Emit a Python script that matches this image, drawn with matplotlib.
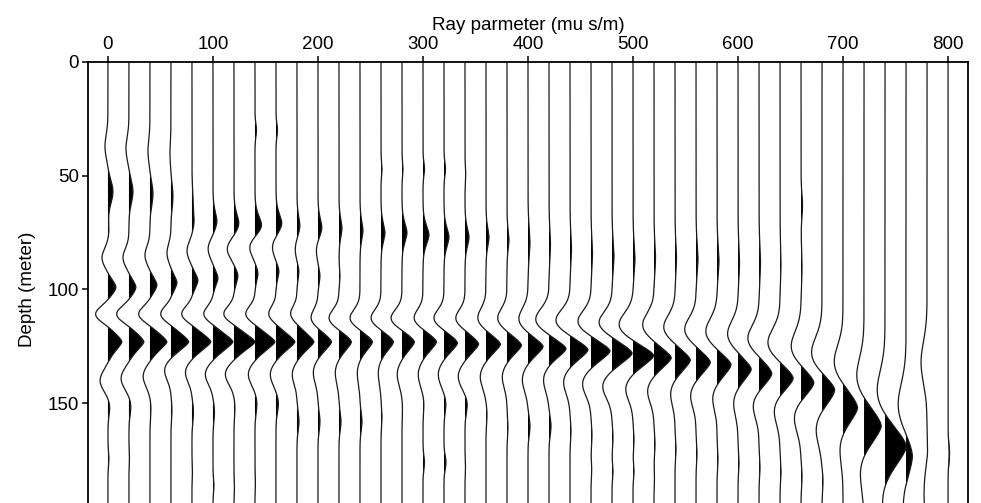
import numpy as np
import matplotlib
matplotlib.use("Agg")
import matplotlib.pyplot as plt

plt.rcParams['font.family'] = ['Liberation Sans', 'DejaVu Sans']

# Ray parameter of every trace (mu s/m)
ray_param = [0, 20, 40, 60, 80, 100, 120, 140, 160, 180,
             200, 220, 240, 260, 280, 300, 320, 340, 360, 380,
             400, 420, 440, 460, 480, 500, 520, 540, 560, 580,
             600, 620, 640, 660, 680, 700, 720, 740, 760, 780,
             800]

# Main reflection: depth (m), amplitude, width (m) for each trace
main_depth = [123, 123, 123, 123, 123, 123, 123, 123, 123, 123,
              123, 123, 123, 123, 123, 123, 123.5, 124, 124, 124.5,
              125, 126, 126.5, 127, 128, 129, 130, 131, 132, 133,
              135, 137, 139, 141, 144, 152, 160, 169, 173, 175,
              175]
main_amp = [14, 15, 17, 18, 19, 20, 21, 20, 19, 17,
            14, 13, 13, 13, 13, 14, 14, 14, 15, 15,
            16, 18, 19, 20, 21, 22, 18, 16, 15, 15,
            14, 14, 15, 15, 15, 16, 19, 23, 8, 0,
            0]
main_width = [4, 4, 4, 4, 4, 4, 4, 4, 4, 4,
              4, 4, 4, 4, 4, 4, 4, 4, 4, 4,
              4.2, 4.2, 4.4, 4.4, 4.6, 4.6, 4.6, 4.8, 4.8, 5,
              5, 5.5, 5.5, 6, 6.5, 7.5, 8.5, 9.5, 10, 10,
              10]

# Trough above the main reflection
upper_depth = [111, 111, 111, 111, 111, 111, 111, 111, 111, 111,
               113, 113, 113, 113, 113, 113, 113, 113, 113, 113,
               113.5, 113.5, 114, 114.5, 115, 116, 116, 117, 118, 119,
               120, 122, 124, 126, 129, 133, 140, 147, 152, 132,
               130]
upper_amp = [-13, -13, -12, -11, -11, -10, -11, -10, -8, -7,
             -8, -11, -11, -11, -12, -10, -11, -10, -9, -10,
             -10, -14, -15, -14, -14, -15, -12, -12, -12, -12,
             -11, -12, -13, -11, -12, -10, -9, -10, -9, -6,
             0]
upper_width = [3.5, 3.5, 3.5, 3.5, 3.5, 3.5, 3.5, 3.5, 3.5, 3.5,
               4, 4, 4, 4, 4, 4, 4, 4, 4.5, 4.5,
               5, 5, 5, 5, 5, 5.5, 5.5, 5.5, 5.5, 6,
               6, 6, 6.5, 7, 7.5, 8, 9, 10, 10, 9,
               9]

# Trough below the main reflection
lower_depth = [140, 139, 138, 135, 136, 137, 137, 137, 137, 137,
               136, 136, 136, 136, 137, 137, 137, 138, 138, 138,
               139, 139, 140, 141, 142, 143, 144, 145, 146, 147,
               149, 150, 152, 155, 160, 167, 177, 188, 192, 190,
               190]
lower_amp = [-8, -8, -7, -7, -7, -8, -9, -7, -6, -5,
             -5, -4, -3, -3, -5, -5, -6, -7, -6, -5,
             -6, -6, -7, -9, -10, -8, -7, -5, -6, -5,
             -5, -7, -7, -8, -7, -5, -6, -5, -4, -3,
             0]
lower_width = [4.5, 4.5, 4.5, 4.5, 4.5, 4.5, 4.5, 4.5, 4.5, 4.5,
               5, 5, 5, 5, 5, 5, 5, 5, 5, 5,
               5.5, 5.5, 5.5, 5.5, 5.5, 5.5, 5.5, 5.5, 5.5, 5.5,
               6, 6, 6.5, 7, 7.5, 8, 9, 10, 10, 10,
               10]

# Reflector near 95 m
refl95_depth = [99, 99, 98, 97, 96, 95, 94, 93, 92, 92,
                94, 94, 0, 0, 0, 0, 0, 0, 0, 0,
                0, 0, 0, 0, 0, 0, 0, 0, 0, 0,
                0, 0, 0, 0, 0, 0, 0, 0, 0, 0,
                0]
refl95_amp = [8, 7, 7, 6, 6, 5, 4, 3, 3, 2,
              2, 1, 0, 0, 0, 0, 0, 0, 0, 0,
              0, 0, 0, 0, 0, 0, 0, 0, 0, 0,
              0, 0, 0, 0, 0, 0, 0, 0, 0, 0,
              0]

# Trough near 84 m
trough84_depth = [86, 86, 85, 84, 83, 82, 82, 81, 81, 82,
                  82, 0, 0, 0, 0, 0, 0, 0, 0, 0,
                  0, 0, 0, 0, 0, 0, 0, 0, 0, 0,
                  0, 0, 0, 0, 0, 0, 0, 0, 0, 0,
                  0]
trough84_amp = [-6, -6, -5, -4, -5, -5, -7, -6, -4, -2,
                -2, 0, 0, 0, 0, 0, 0, 0, 0, 0,
                0, 0, 0, 0, 0, 0, 0, 0, 0, 0,
                0, 0, 0, 0, 0, 0, 0, 0, 0, 0,
                0]

# Reflector near 75 m
refl75_depth = [74, 72, 72, 71, 70, 70, 71, 72, 71, 72,
                73, 73, 74, 75, 75, 76, 77, 77, 77, 78,
                79, 80, 82, 84, 85, 86, 86, 86, 86, 87,
                88, 88, 88, 90, 90, 90, 90, 90, 90, 90,
                90]
refl75_amp = [1, 0, 0, 0, 2, 4, 5, 7, 6, 3,
              4, 3, 3, 4, 5, 6, 5, 4, 3, 2,
              2, 1.5, 1.5, 1.5, 2, 2, 1.5, 1.5, 2, 2,
              1.5, 1.5, 1, 1, 0, 0, 0, 0, 0, 0,
              0]
refl75_width = [4.5, 4.5, 4.5, 4.5, 4.5, 4.5, 4.5, 4.5, 4.5, 4.5,
                4.5, 4.5, 4.5, 4.5, 4.5, 4.5, 4.5, 4.5, 4.5, 4.5,
                7, 7, 7, 7, 7, 7, 7, 7, 7, 7,
                8, 8, 8, 8, 8, 8, 8, 8, 8, 8,
                8]

# Shallow arrivals near 57 m and the trough above them
refl57_depth = [57, 57, 58, 59, 60, 0, 0, 0, 0, 0,
                0, 0, 0, 0, 0, 0, 0, 0, 0, 0,
                0, 0, 0, 0, 0, 0, 0, 0, 0, 0,
                0, 0, 0, 63, 0, 0, 0, 0, 0, 0,
                0]
refl57_amp = [5, 4, 3, 2, 1, 0, 0, 0, 0, 0,
              0, 0, 0, 0, 0, 0, 0, 0, 0, 0,
              0, 0, 0, 0, 0, 0, 0, 0, 0, 0,
              0, 0, 0, 1.5, 0, 0, 0, 0, 0, 0,
              0]
trough38_depth = [37, 38, 39, 40, 0, 0, 0, 0, 0, 0,
                  0, 0, 0, 0, 0, 0, 0, 0, 0, 0,
                  0, 0, 0, 0, 0, 0, 0, 0, 0, 0,
                  0, 0, 0, 0, 0, 0, 0, 0, 0, 0,
                  0]
trough38_amp = [-3, -3, -2, -1, 0, 0, 0, 0, 0, 0,
                0, 0, 0, 0, 0, 0, 0, 0, 0, 0,
                0, 0, 0, 0, 0, 0, 0, 0, 0, 0,
                0, 0, 0, 0, 0, 0, 0, 0, 0, 0,
                0]

# Weak arrivals between 30 and 50 m
shallow_depth = [0, 0, 0, 0, 0, 0, 0, 30, 30, 0,
                 0, 0, 0, 47, 47, 47, 47, 49, 0, 0,
                 0, 0, 0, 0, 0, 0, 0, 0, 0, 0,
                 0, 0, 0, 0, 0, 0, 0, 0, 0, 0,
                 0]
shallow_amp = [0, 0, 0, 0, 0, 0, 0, 1.5, 1.5, 0,
               0, 0, 0, 1, 1, 1.5, 1.5, 0.7, 0, 0,
               0, 0, 0, 0, 0, 0, 0, 0, 0, 0,
               0, 0, 0, 0, 0, 0, 0, 0, 0, 0,
               0]

# Weak arrivals below the main reflection
refl155_depth = [151, 151, 152, 153, 154, 154, 152, 150, 150, 158,
                 158, 158, 158, 156, 152, 150, 150, 150, 155, 160,
                 160, 160, 162, 164, 165, 166, 168, 170, 172, 174,
                 176, 178, 180, 182, 184, 186, 188, 190, 190, 172,
                 172]
refl155_amp = [2, 2, 1, 1, 1.5, 1.5, 1, 2, 2.5, 2,
               2, 2, 2, 1, 0.5, 1, 2, 2.5, 1, 1,
               2, 2, 1, 1, 1, 1, 1, 1, 1, 1,
               1, 1, 1, 1, 1, 0, 0, 0, 0, 1,
               1.5]
refl180_depth = [174, 174, 176, 178, 180, 186, 186, 184, 182, 180,
                 178, 176, 176, 176, 176, 176, 176, 178, 178, 178,
                 178, 178, 178, 179, 180, 180, 182, 184, 186, 188,
                 190, 192, 194, 196, 198, 0, 0, 0, 0, 0,
                 0]
refl180_amp = [1, 0.5, 0, 0, 0.5, 1, 0.5, 0.5, 0, 0,
               0, 0, 0, 0, 0, 1.5, 2, 0.5, 0, 0,
               0, 0, 0, 0.7, 1, 1, 0.5, 0, 0, 0,
               0, 0, 0, 0, 0, 0, 0, 0, 0, 0,
               0]

x_ticks = [0, 100, 200, 300, 400, 500, 600, 700, 800]
y_ticks = [0, 50, 100, 150]

n = len(ray_param)
# (depths, amplitudes, widths, pulse sharpness exponent)
events = [
    (main_depth, main_amp, main_width, 1.5),
    (upper_depth, upper_amp, upper_width, 2.0),
    (lower_depth, lower_amp, lower_width, 2.0),
    (refl95_depth, refl95_amp, [3.5] * n, 1.7),
    (trough84_depth, trough84_amp, [4] * n, 2.0),
    (refl75_depth, refl75_amp, refl75_width, 1.7),
    (refl57_depth, refl57_amp, [5] * n, 2.0),
    (trough38_depth, trough38_amp, [5] * n, 2.0),
    (shallow_depth, shallow_amp, [3] * n, 2.0),
    (refl155_depth, refl155_amp, [4] * n, 2.0),
    (refl180_depth, refl180_amp, [3] * n, 2.0),
]

depth = np.arange(0.0, 200.01, 0.25)
gain = 0.95  # trace amplitude -> ray-parameter units


def pulse(center, amp, width, power):
    # sharpness-adjusted bell pulse; power 2 is a Gaussian
    w = width * (0.88 if power < 2 else 1.0)
    return amp * np.exp(-0.5 * np.abs((depth - center) / w) ** power)


fig = plt.figure(figsize=(9.81, 5.03), dpi=100)
ax = fig.add_axes([88 / 981, 1 - 517 / 503, 880 / 981, (517 - 62) / 503])

for i, p in enumerate(ray_param):
    trace = np.zeros_like(depth)
    for d_arr, a_arr, w_arr, power in events:
        if a_arr[i] != 0:
            trace += pulse(d_arr[i], a_arr[i], w_arr[i], power)
    xs = p + gain * trace
    ax.fill_betweenx(depth, p, xs, where=trace > 0, interpolate=True,
                     color='black', linewidth=0)
    ax.plot(xs, depth, color='#1a1a1a', linewidth=0.9)

ax.set_xlim(-19, 819)
ax.set_ylim(200, 0)
ax.xaxis.tick_top()
ax.xaxis.set_label_position('top')
ax.set_xticks(x_ticks)
ax.set_xticklabels([str(v) for v in x_ticks])
ax.set_yticks(y_ticks)
ax.set_yticklabels([str(v) for v in y_ticks])
ax.tick_params(axis='both', direction='out', length=4.5, width=1.1,
               labelsize=13.5, color='black')
ax.tick_params(axis='x', pad=2)
ax.tick_params(axis='y', pad=2)
ax.set_xlabel('Ray parmeter (mu s/m)', fontsize=13.5, labelpad=4)
ax.set_ylabel('Depth (meter)', fontsize=13.5, labelpad=8)
for side in ('left', 'top', 'right'):
    ax.spines[side].set_linewidth(1.3)
ax.spines['bottom'].set_visible(False)

fig.savefig('out.png', dpi=100)
